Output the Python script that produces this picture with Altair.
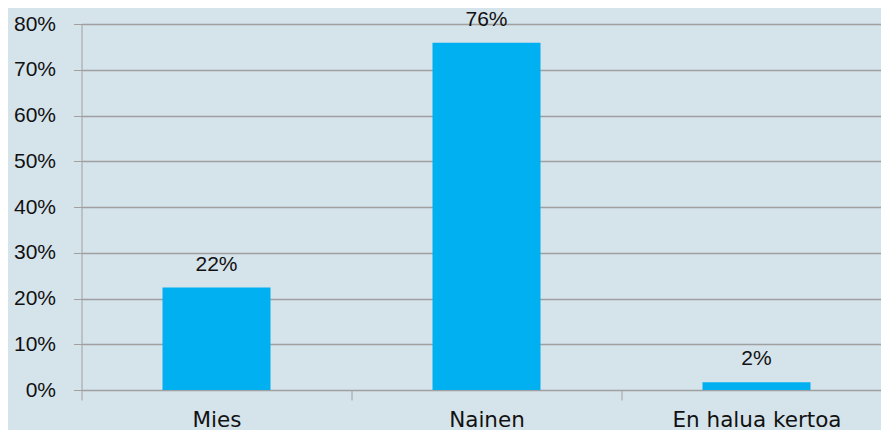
import altair as alt
import pandas as pd

categories = ["Mies", "Nainen", "En halua kertoa"]
shares = [0.224, 0.759, 0.017]

df = pd.DataFrame({"category": categories, "share": shares})

BG = "#d5e3eb"
GRID = "#a0a0a0"
BAR = "#00b0f0"

x = alt.X(
    "category:N",
    sort=categories,
    scale=alt.Scale(range=[0, 810], paddingInner=0, paddingOuter=0),
    axis=alt.Axis(
        title=None,
        labelAngle=0,
        labelFont="DejaVu Sans",
        labelFontSize=21.5,
        labelColor="#111111",
        labelBaseline="alphabetic",
        labelPadding=26,
        tickBand="extent",
        tickSize=10,
        tickColor=GRID,
        domain=False,
        grid=False,
    ),
)
y = alt.Y(
    "share:Q",
    scale=alt.Scale(domain=[0, 0.8], nice=False),
    axis=alt.Axis(
        title=None,
        format=".0%",
        values=[0, 0.1, 0.2, 0.3, 0.4, 0.5, 0.6, 0.7, 0.8],
        labelFont="Liberation Sans",
        labelFontSize=21,
        labelColor="#111111",
        labelPadding=18,
        tickSize=8,
        tickColor=GRID,
        domainColor=GRID,
        gridColor=GRID,
        gridWidth=1.3,
    ),
)

bars = alt.Chart(df).mark_bar(size=108, color=BAR).encode(x=x, y=y)
labels = alt.Chart(df).mark_text(
    dy=-17, baseline="alphabetic", font="Liberation Sans", fontSize=21, color="#111111"
).encode(x=x, y=y, text=alt.Text("share:Q", format=".0%"))

chart = (
    alt.layer(bars, labels)
    .properties(
        width=799.5,
        height=366,
        background=BG,
        autosize=alt.AutoSizeParams(type="none"),
        padding={"left": 73.5, "top": 16, "right": 0, "bottom": 40},
    )
    .configure_view(stroke=None, fill=BG)
)

chart.save("out.html", embed_options={"renderer": "svg", "actions": False})
